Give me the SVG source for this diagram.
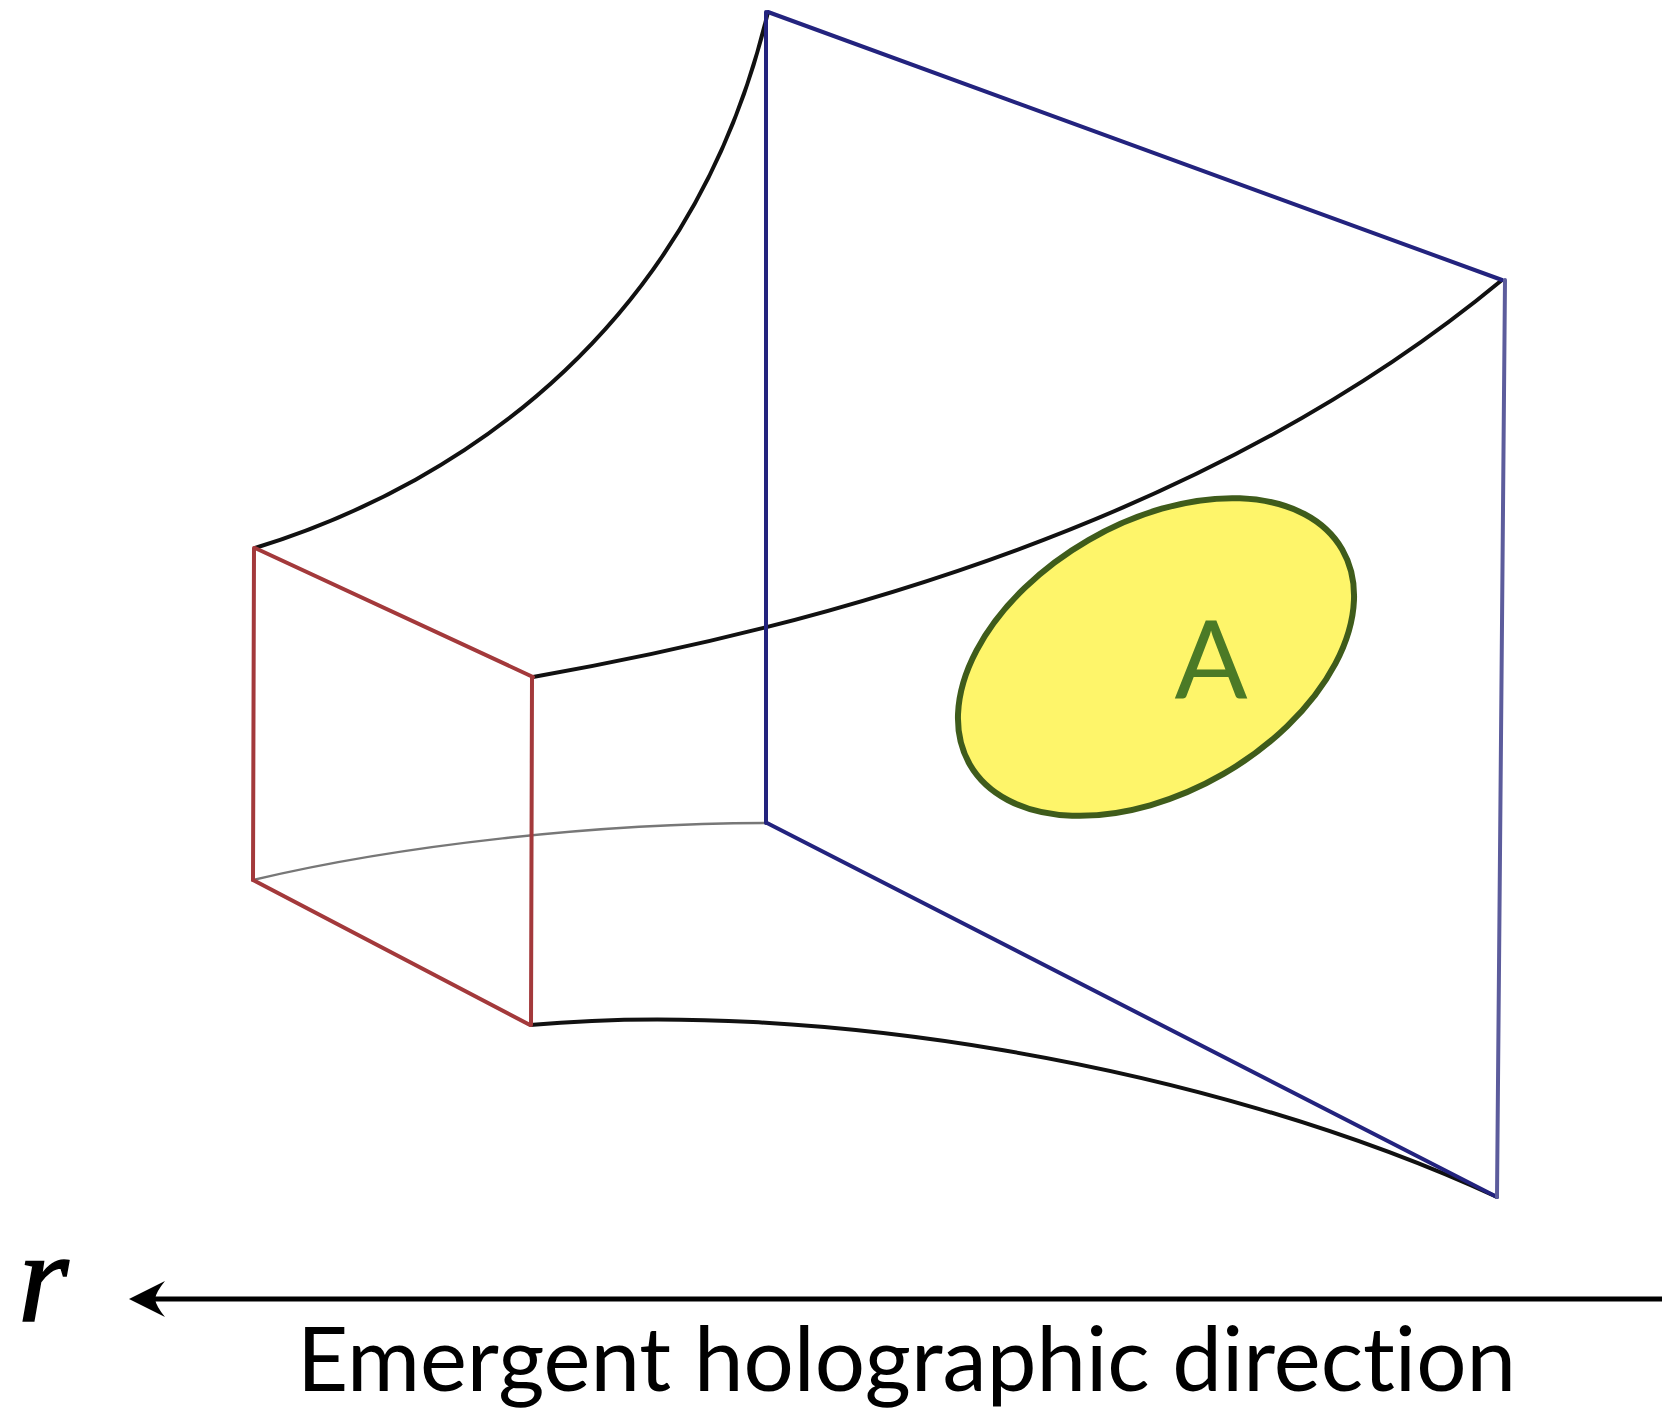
<svg xmlns="http://www.w3.org/2000/svg" width="1662" height="1419" viewBox="0 0 1662 1419">
<defs>
<style>
.blue{stroke:#23237e;stroke-width:4;fill:none;stroke-linecap:round}
.red{stroke:#a3393b;stroke-width:4;fill:none;stroke-linecap:round}
.curve{stroke:#111;stroke-width:4;fill:none}
.grey{stroke:#777;stroke-width:2.5;fill:none}
.sans{font-family:Lato,'Open Sans',sans-serif;font-variant-ligatures:none}
.serif{font-family:'Liberation Serif','Times New Roman',serif;font-style:italic}
</style>
</defs>
<rect width="1662" height="1419" fill="#fff"/>
<g id="connectors">
<path class="curve" d="M255,548 C470,482 695,320 768,12"/>
<path class="curve" d="M533,677 C800,630 1200,530 1502,280"/>
<path class="grey" d="M253,880 C400,845 600,823 767,823"/>
<path class="curve" d="M530,1025 C800,1000 1200,1060 1497,1197"/>
</g>
<g id="far-face">
<line class="blue" x1="768" y1="12" x2="1502" y2="280"/>
<line class="blue" x1="766" y1="12" x2="766" y2="823"/>
<line class="blue" x1="767" y1="823" x2="1497" y2="1197"/>
<line class="blue" x1="1505" y1="280" x2="1497" y2="1197" style="stroke:#5c5c9c"/>
</g>
<g id="near-face">
<line class="red" x1="255" y1="548" x2="533" y2="677"/>
<line class="red" x1="254" y1="548" x2="253" y2="880"/>
<line class="red" x1="253" y1="880" x2="530" y2="1025"/>
<line class="red" x1="532" y1="677" x2="531" y2="1025"/>
</g>
<g id="region-A">
<ellipse cx="1156" cy="657" rx="215" ry="135" transform="rotate(-30 1156 657)" fill="#fef56a" stroke="#3f5c1b" stroke-width="6"/>
<text class="sans" x="1211" y="698" font-size="108" fill="#4b7a26" text-anchor="middle">A</text>
</g>
<g id="axis">
<line x1="1662" y1="1299" x2="150" y2="1299" stroke="#000" stroke-width="5"/>
<path d="M129,1299 L165,1281 Q156,1292 155,1299 Q156,1306 165,1317 Z" fill="#000"/>
<text class="serif" x="18" y="1321" font-size="130" fill="#000" stroke="#000" stroke-width="1.5">r</text>
<text class="sans" x="297" y="1391" font-size="90" fill="#000" textLength="1219" lengthAdjust="spacingAndGlyphs">Emergent holographic direction</text>
</g>
</svg>
